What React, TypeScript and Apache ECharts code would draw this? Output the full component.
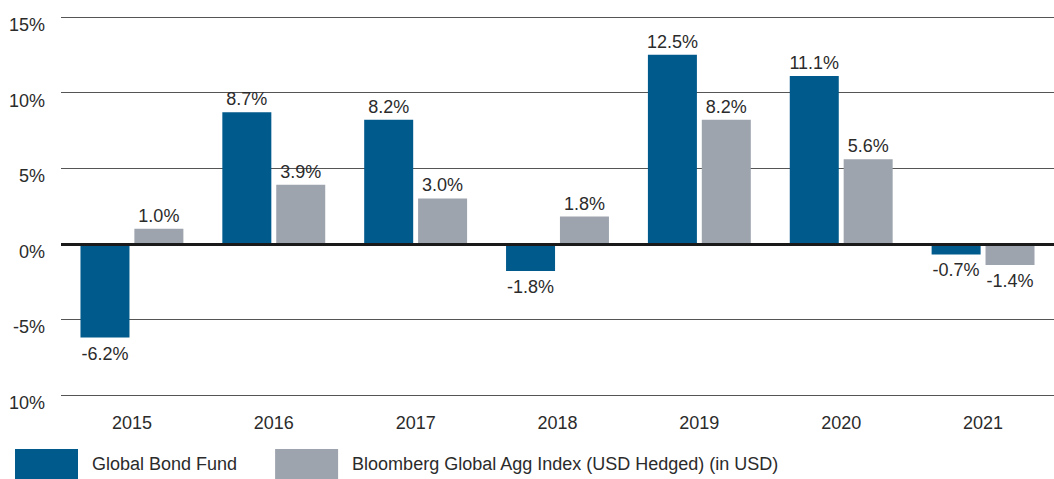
import React, { useEffect, useRef } from "react";
import * as echarts from "echarts";

const years = ["2015", "2016", "2017", "2018", "2019", "2020", "2021"];
const fundValues = [-6.2, 8.7, 8.2, -1.8, 12.5, 11.1, -0.7];
const indexValues = [1.0, 3.9, 3.0, 1.8, 8.2, 5.6, -1.4];
const yTickValues = [-10, -5, 0, 5, 10, 15];
const yTickLabels = ["10%", "-5%", "0%", "5%", "10%", "15%"];
const seriesNames = ["Global Bond Fund", "Bloomberg Global Agg Index (USD Hedged) (in USD)"];

const FONT = "'Liberation Sans', Arial, sans-serif";
const TEXT = "#2b2b2b";

function toData(values: number[]) {
  return values.map((v) => ({
    value: v,
    label: v >= 0 ? { position: "top", distance: 4 } : { position: "bottom", distance: 7 },
  }));
}

export default function App() {
  const ref = useRef<HTMLDivElement>(null);
  useEffect(() => {
    if (!ref.current) return;
    const chart = echarts.init(ref.current, undefined, { renderer: "svg" });
    const label = {
      show: true,
      distance: 4,
      color: TEXT,
      fontSize: 18,
      fontFamily: FONT,
      formatter: (p: any) => `${Number(p.value).toFixed(1)}%`,
    };
    chart.setOption({
      animation: false,
      textStyle: { fontFamily: FONT },
      grid: { left: 61, right: 0, top: 17, bottom: 84, containLabel: false },
      legend: {
        left: 15,
        bottom: 0,
        padding: 0,
        itemWidth: 63,
        itemHeight: 30,
        itemGap: 38,
        icon: "rect",
        textStyle: { color: TEXT, fontSize: 18, fontFamily: FONT, padding: [0, 0, 0, 9] },
        data: seriesNames,
      },
      xAxis: {
        type: "category",
        data: years,
        axisLine: { show: false },
        axisTick: { show: false },
        axisLabel: { color: TEXT, fontSize: 18, fontFamily: FONT, margin: 19 },
      },
      yAxis: {
        type: "value",
        min: -10,
        max: 15,
        interval: 5,
        axisLine: { show: false },
        axisTick: { show: false },
        splitLine: { lineStyle: { color: "#555", width: 1 } },
        axisLabel: {
          color: TEXT,
          fontSize: 18,
          fontFamily: FONT,
          margin: 16,
          verticalAlign: "top",
          lineHeight: 16,
          formatter: (v: number) => {
            const i = yTickValues.indexOf(v);
            return i >= 0 ? yTickLabels[i] : `${v}%`;
          },
        },
      },
      series: [
        {
          name: seriesNames[0],
          type: "bar",
          data: toData(fundValues),
          barWidth: 49,
          barGap: "10%",
          itemStyle: { color: "#005a8c" },
          label,
          markLine: {
            silent: true,
            symbol: "none",
            label: { show: false },
            lineStyle: { color: "#1a1a1a", width: 3, type: "solid" },
            data: [{ yAxis: 0 }],
            z: 10,
          },
        },
        {
          name: seriesNames[1],
          type: "bar",
          data: toData(indexValues),
          barWidth: 49,
          barGap: "10%",
          itemStyle: { color: "#9ea4ae" },
          label,
        },
      ],
    });
    return () => chart.dispose();
  }, []);
  return (
    <div
      ref={ref}
      style={{ position: "fixed", left: 0, top: 0, width: 1054, height: 479, background: "#fff" }}
    />
  );
}
